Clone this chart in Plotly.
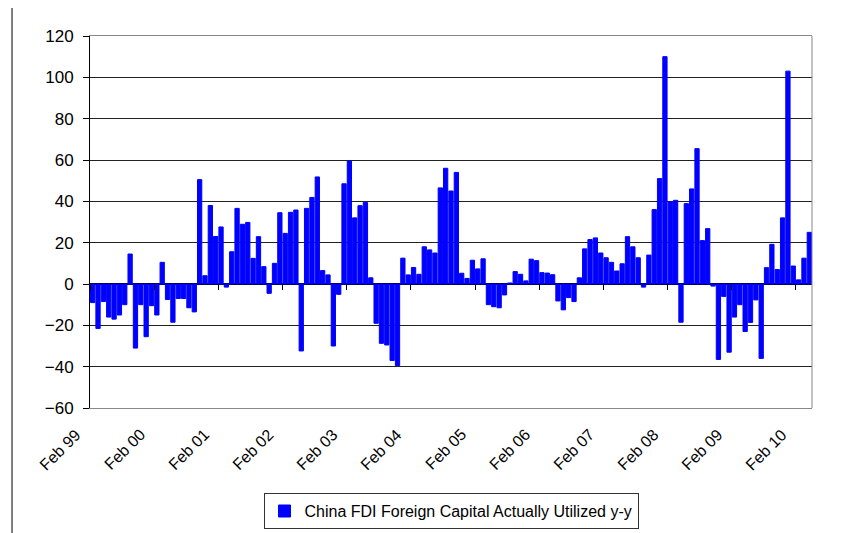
import plotly.graph_objects as go

# Monthly y-y % change, Feb 1999 .. Apr 2010
values = [
    -9, -21.5, -8.5, -16, -17, -15, -10, 14.5, -31, -10, -25.5, -10.5,
    -15, 10.5, -7.5, -18.5, -7, -7, -11.5, -13.5, 50.5, 4, 38, 23,
    27.6, -1.5, 15.6, 36.6, 28.9, 29.8, 12.4, 22.9, 8.4, -4.5, 10, 34.5,
    24.5, 34.7, 35.8, -32.4, 36.6, 41.9, 51.8, 6.5, 4.4, -30, -5, 48.5,
    59.5, 32, 37.9, 39.5, 3, -19, -28.7, -29.5, -37, -39.5, 12.5, 4.4,
    8, 4.7, 18, 16.5, 15, 46.5, 56, 45, 54, 5.2, 2.7, 11.5,
    7.3, 12.2, -10, -11, -11.5, -5.3, 0.5, 6, 4.7, 1.5, 12, 11.3,
    5.5, 5.3, 4.5, -8.2, -12.5, -6.6, -8.5, 3, 17, 21.5, 22.3, 15,
    12.7, 10.5, 6.3, 9.8, 22.9, 18, 12.7, -1.5, 14, 36, 51, 110,
    39.7, 40.5, -18.5, 38.9, 46, 65.5, 21, 26.8, -1, -36.5, -6, -33,
    -16, -10, -23, -18.6, -7.7, -36, 7.9, 19.2, 7, 32, 103, 8.7,
    2, 12.5, 25,
]
month_names = ["Feb", "Mar", "Apr", "May", "Jun", "Jul", "Aug", "Sep", "Oct", "Nov", "Dec", "Jan"]
months = []
for i in range(len(values)):
    yr = 1999 + (i + 1) // 12
    months.append(f"{month_names[i % 12]} {yr % 100:02d}")
tick_labels = ["Feb 99", "Feb 00", "Feb 01", "Feb 02", "Feb 03", "Feb 04",
               "Feb 05", "Feb 06", "Feb 07", "Feb 08", "Feb 09", "Feb 10"]
series_name = "China FDI Foreign Capital Actually Utilized y-y"

x = list(range(len(values)))
xr = [-0.5, len(values) - 0.5]
boundary_pos = [12 * k - 0.5 for k in range(len(tick_labels))]

FONT = "Liberation Sans, Arial, sans-serif"

fig = go.Figure()
fig.add_trace(go.Bar(
    x=x, y=values, name=series_name, customdata=months,
    hovertemplate="%{customdata}: %{y}<extra></extra>",
    marker=dict(color="#0000FF", line=dict(color="#0000FF", width=1)),
))
fig.add_trace(go.Scatter(x=[None], y=[None], xaxis="x2", showlegend=False, hoverinfo="skip"))

annotations = [
    dict(x=pos, xref="x", y=0, yref="paper", text=lab, textangle=-45,
         showarrow=False, xanchor="right", yanchor="top", xshift=-3, yshift=-15,
         font=dict(size=16, family=FONT, color="black"))
    for pos, lab in zip(boundary_pos, tick_labels)
]

# page body adds an 8px offset, so the figure is 8px smaller and margins shifted
fig.update_layout(
    width=835, height=525,
    margin=dict(l=82, r=31, t=28, b=125),
    paper_bgcolor="white", plot_bgcolor="white",
    font=dict(family=FONT, color="black"),
    bargap=0.2,
    showlegend=True,
    legend=dict(
        x=0.5, xanchor="center", xref="paper",
        y=0.076, yanchor="top", yref="container",
        orientation="h", bordercolor="#333", borderwidth=1,
        font=dict(size=16, family=FONT), bgcolor="white",
    ),
    xaxis=dict(
        range=xr, showticklabels=False, ticks="", showgrid=False, zeroline=False,
        showline=True, linecolor="#888", linewidth=1, mirror=True, automargin=False,
    ),
    xaxis2=dict(
        overlaying="x", anchor="free", position=1 / 3, range=xr,
        tickmode="array", tickvals=boundary_pos, ticks="outside", ticklen=5,
        tickcolor="black", tickwidth=1, showticklabels=False,
        showgrid=False, zeroline=False, showline=False, automargin=False,
    ),
    yaxis=dict(
        range=[-60, 120], dtick=20, tick0=0, automargin=False,
        showgrid=True, gridcolor="#222", gridwidth=1,
        zeroline=True, zerolinecolor="black", zerolinewidth=2,
        showline=True, linecolor="black", linewidth=1,
        ticks="outside", ticklen=6, tickcolor="black",
        tickfont=dict(size=17, family=FONT), ticklabelstandoff=6,
    ),
    annotations=annotations,
    shapes=[
        dict(type="line", xref="paper", yref="paper", x0=1, x1=1, y0=0, y1=1,
             line=dict(color="#888", width=1)),
        dict(type="line", xref="paper", yref="paper", x0=-0.108, x1=-0.108, y0=-0.4, y1=1.1,
             line=dict(color="black", width=1)),
        dict(type="line", xref="paper", yref="paper", x0=1.033, x1=1.033, y0=-0.4, y1=-0.29,
             line=dict(color="#666", width=1)),
    ],
)

fig.write_html("out.html")
